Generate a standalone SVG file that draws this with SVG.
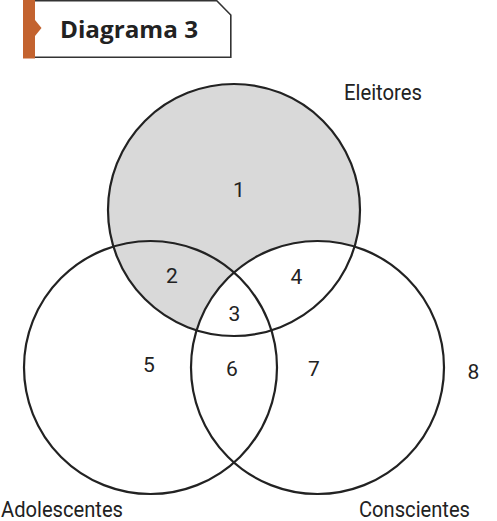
<svg xmlns="http://www.w3.org/2000/svg" width="497" height="521" viewBox="0 0 497 521">
<style>
.ring{fill:none;stroke:#222;stroke-width:2.2}
.lbl{font-family:Roboto,"Liberation Sans",sans-serif;font-size:22px;fill:#222}
.num{font-family:Roboto,"Liberation Sans",sans-serif;font-size:21px;fill:#222;text-anchor:middle}
</style>
<rect width="497" height="521" fill="#fff"/>
<g id="header">
<path d="M35,0.8 H216.8 L230.8,15 V57.2 H35" fill="#fff" stroke="#333" stroke-width="1.6"/>
<polygon points="23,0 35,0 35,20 41.5,28 35,36 35,58.5 23,58.5" fill="#c3632f"/>
<text x="60" y="38" font-family="'Open Sans','Liberation Sans',sans-serif" font-weight="bold" font-size="24" fill="#222" textLength="138" lengthAdjust="spacingAndGlyphs">Diagrama 3</text>
</g>
<g id="shading">
<circle cx="234" cy="210" r="126" fill="#d9d9d9"/>
<circle cx="317.5" cy="367.5" r="126.5" fill="#fff"/>
</g>
<g id="eleitores">
<circle class="ring" cx="234" cy="210" r="126"/>
<text class="lbl" x="344" y="99.5" textLength="78" lengthAdjust="spacingAndGlyphs">Eleitores</text>
</g>
<g id="adolescentes">
<circle class="ring" cx="150.5" cy="367.5" r="126.5"/>
<text class="lbl" x="1" y="517" textLength="122" lengthAdjust="spacingAndGlyphs">Adolescentes</text>
</g>
<g id="conscientes">
<circle class="ring" cx="317.5" cy="367.5" r="126.5"/>
<text class="lbl" x="359" y="517" textLength="111" lengthAdjust="spacingAndGlyphs">Conscientes</text>
</g>
<g id="regions">
<text class="num" x="239" y="197">1</text>
<text class="num" x="172" y="283">2</text>
<text class="num" x="234.5" y="320.5">3</text>
<text class="num" x="296.5" y="284">4</text>
<text class="num" x="149" y="372">5</text>
<text class="num" x="232" y="376">6</text>
<text class="num" x="314" y="376">7</text>
<text class="num" x="473.5" y="379">8</text>
</g>
</svg>
